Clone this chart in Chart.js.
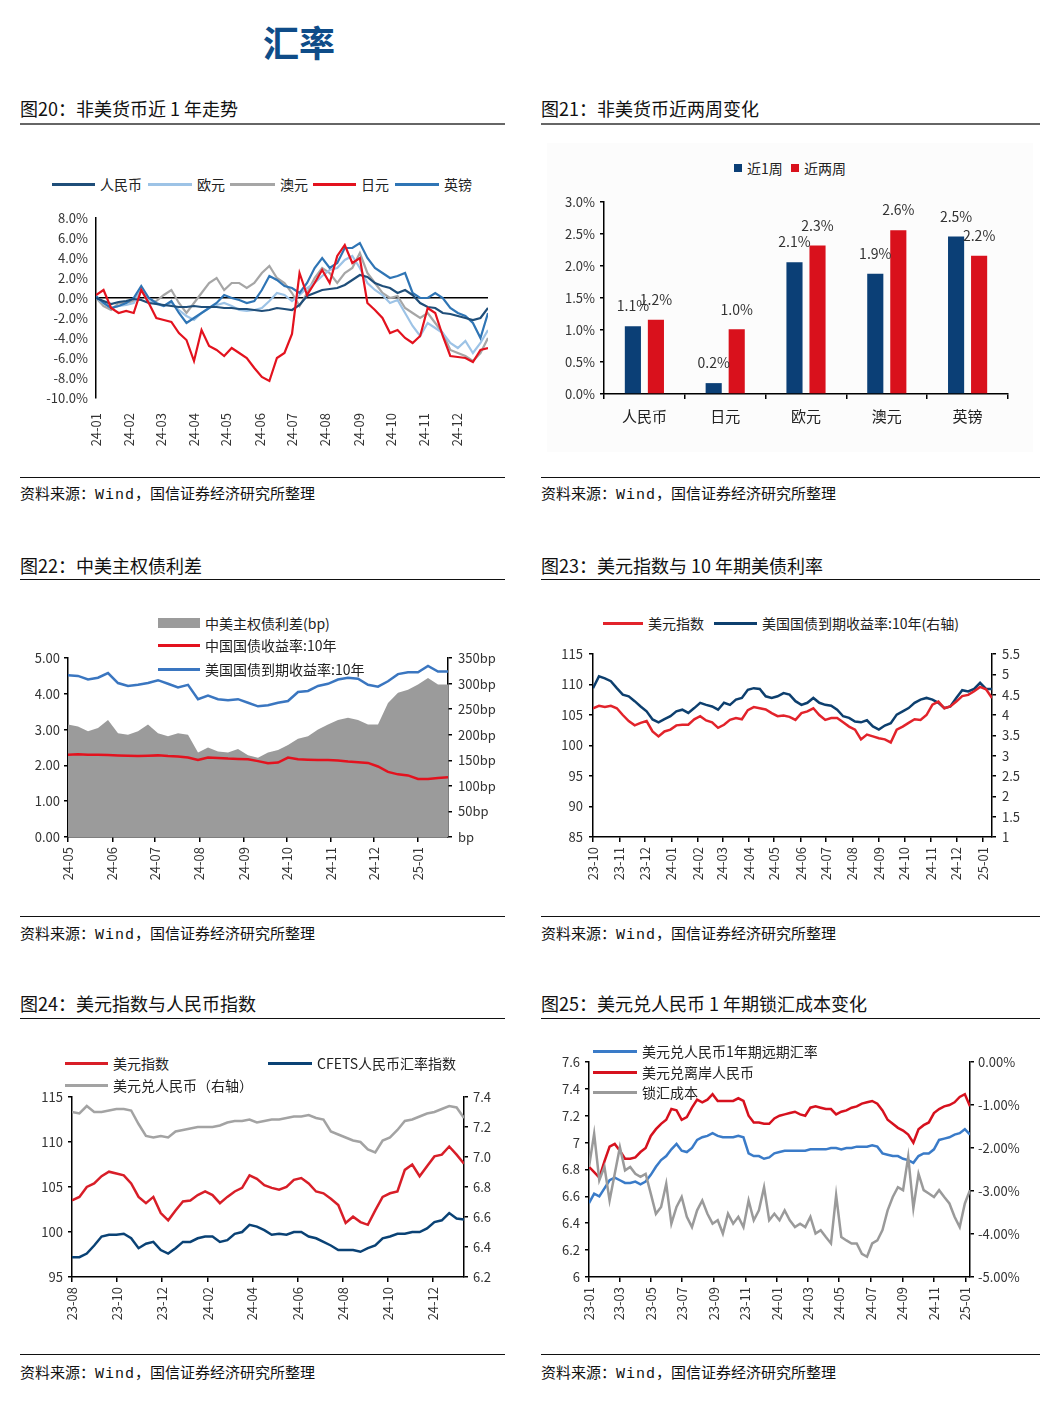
<!DOCTYPE html>
<html lang="zh-CN">
<head>
<meta charset="utf-8">
<title>汇率</title>
<script src="https://cdn.jsdelivr.net/npm/chart.js@4.4.1/dist/chart.umd.min.js"></script>
<style>
body{margin:0;background:#fff;font-family:'Noto Sans CJK SC',sans-serif;color:#222}
#page{position:relative;width:1055px;height:1417px;overflow:hidden;background:#fff}
.title{position:absolute;left:0;width:598px;top:16px;text-align:center;font-size:36px;line-height:50px;font-weight:bold;color:#0f4c88}
.cap{position:absolute;font-size:18px;line-height:22px;white-space:nowrap;color:#111}
.src{position:absolute;font-size:15px;line-height:20px;white-space:nowrap;color:#111}
.src b{font-weight:normal;font-family:'Liberation Mono',monospace;letter-spacing:1px}
.rule{position:absolute;height:0;border-top:2px solid #666}
.rule.dark{border-top:1.5px solid #111}
canvas{position:absolute}
.lg{position:absolute;display:flex;align-items:center;height:20px;font-size:14px;white-space:nowrap;color:#222}
.lg span{display:inline-block}
#bg2{position:absolute;left:547px;top:143px;width:486px;height:309px;background:#fcfcfc}
</style>
</head>
<body>
<div id="page">
  <div class="title">汇率</div>

  <div class="cap" style="left:20px;top:97px">图20：非美货币近 1 年走势</div>
  <div class="rule" style="left:20px;top:123px;width:485px"></div>
  <div class="cap" style="left:541px;top:97px">图21：非美货币近两周变化</div>
  <div class="rule" style="left:541px;top:123px;width:499px"></div>
  <div id="bg2"></div>
  <canvas id="c1" width="485" height="260" style="left:20px;top:200px"></canvas>
  <canvas id="c2" width="490" height="260" style="left:545px;top:185px"></canvas>
  <div class="rule dark" style="left:20px;top:477px;width:485px"></div>
  <div class="src" style="left:20px;top:483px">资料来源：<b>Wind</b>，国信证券经济研究所整理</div>
  <div class="rule dark" style="left:541px;top:477px;width:499px"></div>
  <div class="src" style="left:541px;top:483px">资料来源：<b>Wind</b>，国信证券经济研究所整理</div>

  <div class="cap" style="left:20px;top:554px">图22：中美主权债利差</div>
  <div class="rule dark" style="left:20px;top:579px;width:485px"></div>
  <div class="cap" style="left:541px;top:554px">图23：美元指数与 10 年期美债利率</div>
  <div class="rule dark" style="left:541px;top:579px;width:499px"></div>
  <canvas id="c3" width="485" height="270" style="left:20px;top:640px"></canvas>
  <canvas id="c4" width="490" height="275" style="left:545px;top:635px"></canvas>
  <div class="rule dark" style="left:20px;top:916px;width:485px"></div>
  <div class="src" style="left:20px;top:923px">资料来源：<b>Wind</b>，国信证券经济研究所整理</div>
  <div class="rule dark" style="left:541px;top:916px;width:499px"></div>
  <div class="src" style="left:541px;top:923px">资料来源：<b>Wind</b>，国信证券经济研究所整理</div>

  <div class="cap" style="left:20px;top:992px">图24：美元指数与人民币指数</div>
  <div class="rule dark" style="left:20px;top:1018px;width:485px"></div>
  <div class="cap" style="left:541px;top:992px">图25：美元兑人民币 1 年期锁汇成本变化</div>
  <div class="rule dark" style="left:541px;top:1018px;width:499px"></div>
  <canvas id="c5" width="485" height="275" style="left:20px;top:1075px"></canvas>
  <canvas id="c6" width="490" height="305" style="left:545px;top:1045px"></canvas>
  <div class="rule dark" style="left:20px;top:1354px;width:485px"></div>
  <div class="src" style="left:20px;top:1362px">资料来源：<b>Wind</b>，国信证券经济研究所整理</div>
  <div class="rule dark" style="left:541px;top:1354px;width:499px"></div>
  <div class="src" style="left:541px;top:1362px">资料来源：<b>Wind</b>，国信证券经济研究所整理</div>
</div>

<script>
// ---- 图20 非美货币近1年走势 (周度, %)
const c1Start = '2024-01-01'
const c1Ticks = ['24-01','24-02','24-03','24-04','24-05','24-06','24-07','24-08','24-09','24-10','24-11','24-12']
const c1Cny = [0,-0.3,-0.6,-0.4,-0.3,-0.1,-0.2,-0.5,-0.6,-0.7,
  -0.8,-0.9,-0.9,-0.8,-0.9,-0.9,-0.9,-1.0,-1.0,-1.1,
  -1.1,-1.2,-1.3,-1.2,-1.0,-1.1,-1.2,-0.7,0.2,0.5,
  0.8,0.9,1.0,1.3,1.8,2.3,2.1,1.5,1.2,1.0,
  0.5,0.8,0.3,-0.5,-0.9,-1.0,-1.5,-1.6,-1.8,-2.0,
  -2.2,-2.0,-1.0]
const c1Eur = [0,-0.5,-1.0,-0.8,-0.7,-0.5,0.8,-0.3,-0.6,-0.8,
  -0.5,-1.2,-1.8,-2.2,-1.5,-1.0,-0.7,-0.5,-0.8,-1.2,
  -1.3,-1.2,-1.0,-0.3,0.5,0.3,-0.3,0.3,1.0,1.5,
  2.2,2.8,3.0,3.8,4.2,3.0,1.5,0.8,0.3,-0.5,
  -0.2,-1.5,-2.8,-3.8,-2.5,-3.0,-3.5,-4.5,-5.0,-4.3,
  -5.5,-4.5,-3.2]
const c1Aud = [0,-0.8,-1.2,-0.5,-0.5,-0.3,0.8,-0.5,-0.3,0.3,
  0.8,-0.5,-1.5,-0.5,0.5,1.5,2.0,0.8,1.5,1.5,
  1.0,1.5,2.5,3.2,2.0,1.5,0.5,-0.8,0.5,2.0,
  3.0,2.5,1.5,2.5,3.0,4.5,2.5,1.5,0.5,0.0,
  0.2,-1.0,-1.5,-2.0,-1.5,-2.5,-3.5,-5.2,-5.5,-5.8,
  -6.3,-5.5,-4.0]
const c1Jpy = [0.3,0.8,-1.0,-1.5,-1.3,-1.5,0.8,-0.5,-2.0,-2.2,
  -2.4,-3.5,-4.2,-6.3,-3.2,-4.8,-5.2,-5.8,-5.0,-5.5,
  -6.0,-7.0,-7.9,-8.3,-6.0,-5.5,-3.6,2.5,0.3,1.5,
  2.8,1.5,4.2,5.3,3.5,4.0,-0.5,-1.2,-2.0,-3.5,
  -3.2,-4.0,-4.5,-3.8,-1.0,-1.5,-3.8,-5.8,-5.9,-6.0,
  -6.4,-5.2,-5.0]
const c1Gbp = [0.2,-0.5,-1.0,-0.8,-0.5,0.0,1.2,0.0,-0.5,-0.8,
  -0.3,-1.5,-2.5,-2.0,-1.5,-1.0,-0.5,0.3,0.0,-0.2,
  -0.5,-0.3,0.8,2.2,1.8,1.2,1.0,0.5,1.5,3.0,
  4.0,3.0,3.5,5.0,5.0,5.5,4.0,3.0,2.5,2.0,
  2.2,2.5,0.5,0.0,0.0,0.5,0.0,-1.0,-1.5,-1.8,
  -2.5,-4.0,-1.5]

// ---- 图21 非美货币近两周变化 (%)
const barCats = ['人民币','日元','欧元','澳元','英镑']
const barWeek1 = [1.06, 0.17, 2.06, 1.88, 2.46]
const barWeek2 = [1.16, 1.01, 2.32, 2.56, 2.16]

// ---- 图22 中美主权债利差 (周度)
const c3Start = '2024-05-01'
const c3Ticks = ['24-05','24-06','24-07','24-08','24-09','24-10','24-11','24-12','25-01']
const c3Cn = [2.30,2.31,2.30,2.30,2.29,2.28,2.27,2.26,2.27,2.28,
  2.26,2.25,2.22,2.15,2.22,2.21,2.19,2.18,2.17,2.12,
  2.06,2.08,2.22,2.17,2.16,2.15,2.15,2.14,2.11,2.09,
  2.07,1.97,1.82,1.75,1.72,1.62,1.62,1.65,1.67]
const c3Us = [4.52,4.50,4.40,4.45,4.58,4.30,4.22,4.25,4.30,4.38,
  4.28,4.18,4.25,3.85,3.95,3.85,3.82,3.85,3.75,3.65,
  3.68,3.75,3.80,4.05,4.08,4.22,4.28,4.40,4.45,4.42,
  4.25,4.20,4.35,4.55,4.60,4.60,4.78,4.62,4.62]
const c3Spread = [220,216,207,213,229,203,200,207,220,203,
  197,203,200,165,175,167,165,172,160,155,
  165,170,180,192,197,210,220,229,233,229,
  220,220,262,282,288,298,311,298,298]

// ---- 图23 美元指数与10年期美债利率 (周度)
const c4Start = '2023-10-01'
const c4Ticks = ['23-10','23-11','23-12','24-01','24-02','24-03','24-04','24-05','24-06','24-07','24-08','24-09','24-10','24-11','24-12','25-01']
const c4Dxy = [106.1,106.5,106.3,106.5,106.1,105.0,104.0,103.3,103.7,104.0,
  102.3,101.5,102.3,102.6,103.3,103.4,103.4,104.3,104.8,104.1,
  103.8,102.9,103.4,104.2,104.5,104.3,105.8,106.3,106.1,105.9,
  105.3,104.8,104.9,104.7,104.2,105.3,105.6,106.1,105.0,104.2,
  104.5,104.5,103.8,103.1,102.6,101.0,101.8,101.5,101.2,101.0,
  100.5,102.6,103.1,103.7,104.3,104.2,105.0,106.7,107.2,106.1,
  106.4,107.2,108.1,108.3,108.9,109.6,109.2,107.8]
const c4Us10y = [4.66,4.95,4.90,4.83,4.66,4.50,4.46,4.34,4.21,4.09,
  3.89,3.82,3.90,3.97,4.09,4.13,4.05,4.17,4.30,4.25,
  4.21,4.13,4.30,4.25,4.38,4.42,4.62,4.66,4.64,4.46,
  4.42,4.46,4.54,4.50,4.34,4.25,4.30,4.42,4.30,4.25,
  4.23,4.13,3.97,3.93,3.84,3.82,3.87,3.72,3.64,3.74,
  3.80,4.01,4.09,4.17,4.30,4.38,4.42,4.38,4.30,4.17,
  4.21,4.42,4.61,4.58,4.64,4.79,4.64,4.64]

// ---- 图24 美元指数与人民币指数 (10日)
const c5Start = '2023-08-01'
const c5Ticks = ['23-08','23-10','23-12','24-02','24-04','24-06','24-08','24-10','24-12']
const c5Dxy = [103.5,103.9,105.0,105.4,106.2,106.7,106.5,106.3,105.4,103.9,
  103.2,103.9,102.1,101.3,102.4,103.4,103.5,104.1,104.5,104.1,
  103.2,103.9,104.5,104.9,106.3,105.9,105.2,104.9,104.7,105.0,
  105.8,106.0,105.4,104.5,104.3,103.7,103.0,101.0,101.7,101.1,
  100.8,102.4,103.9,104.3,104.5,106.9,107.5,106.2,107.3,108.4,
  108.6,109.5,108.6,107.6]
const c5Cfets = [97.2,97.2,97.6,98.5,99.5,99.7,99.7,99.8,99.3,98.2,
  98.7,98.9,98.0,97.6,98.2,98.9,98.9,99.3,99.5,99.5,
  98.9,99.1,99.8,100.0,100.8,100.6,100.2,99.7,99.8,99.7,
  100.0,100.0,99.5,99.3,98.9,98.5,98.0,98.0,98.0,97.8,
  98.2,98.5,99.3,99.5,99.8,99.8,100.0,100.0,100.4,101.1,
  101.3,102.1,101.5,101.4]
const c5Usdcny = [7.30,7.29,7.34,7.30,7.30,7.31,7.32,7.32,7.31,7.22,
  7.14,7.13,7.14,7.13,7.17,7.18,7.19,7.20,7.20,7.20,
  7.21,7.23,7.24,7.24,7.25,7.23,7.24,7.25,7.25,7.26,
  7.27,7.27,7.28,7.26,7.25,7.17,7.15,7.13,7.11,7.10,
  7.05,7.03,7.11,7.13,7.18,7.24,7.25,7.27,7.29,7.30,
  7.32,7.34,7.33,7.26]

// ---- 图25 美元兑人民币1年期锁汇成本 (10日)
const c6Start = '2023-01-01'
const c6Ticks = ['23-01','23-03','23-05','23-07','23-09','23-11','24-01','24-03','24-05','24-07','24-09','24-11','25-01']
const c6Fwd = [6.55,6.62,6.60,6.66,6.72,6.74,6.72,6.70,6.70,6.71,
  6.69,6.71,6.76,6.82,6.87,6.90,6.95,6.99,6.94,6.93,
  6.96,7.02,7.04,7.05,7.07,7.05,7.04,7.04,7.04,7.05,
  7.04,6.92,6.90,6.90,6.88,6.89,6.92,6.93,6.94,6.94,
  6.94,6.94,6.94,6.95,6.95,6.95,6.95,6.96,6.96,6.95,
  6.96,6.96,6.97,6.97,6.97,6.98,6.97,6.92,6.91,6.90,
  6.90,6.88,6.87,6.85,6.90,6.92,6.92,6.95,7.02,7.03,
  7.04,7.06,7.07,7.10,7.06]
const c6Cnh = [6.82,6.78,6.74,6.86,6.97,6.99,6.94,6.88,6.88,6.89,
  6.93,6.96,7.05,7.10,7.14,7.17,7.25,7.24,7.17,7.19,
  7.26,7.32,7.30,7.32,7.36,7.31,7.31,7.31,7.31,7.33,
  7.31,7.20,7.15,7.15,7.14,7.14,7.18,7.20,7.21,7.22,
  7.23,7.21,7.20,7.26,7.27,7.26,7.25,7.25,7.21,7.23,
  7.24,7.26,7.27,7.29,7.30,7.31,7.29,7.24,7.17,7.14,
  7.11,7.09,7.06,7.00,7.10,7.13,7.15,7.22,7.25,7.27,
  7.28,7.30,7.34,7.36,7.27]
const c6Cost = [-2.44,-1.67,-2.75,-2.44,-3.22,-2.60,-1.98,-2.52,-2.44,-2.60,
  -2.67,-2.60,-3.06,-3.53,-3.37,-2.83,-3.76,-3.37,-3.14,-3.60,
  -3.84,-3.45,-3.22,-3.53,-3.76,-3.68,-3.99,-3.53,-3.76,-3.60,
  -3.84,-3.22,-3.68,-3.45,-2.91,-3.68,-3.53,-3.68,-3.45,-3.68,
  -3.84,-3.76,-3.84,-3.60,-3.99,-3.91,-4.07,-4.22,-3.10,-4.07,
  -4.15,-4.22,-4.22,-4.46,-4.53,-4.22,-4.15,-3.91,-3.45,-3.14,
  -2.91,-2.98,-2.20,-3.40,-2.60,-2.98,-3.06,-3.14,-2.98,-3.14,
  -3.29,-3.60,-3.84,-3.29,-2.98]

// colours
const NAVY = '#1f4e79', LIGHTBLUE = '#9dc3e6', GREY = '#a6a6a6', RED = '#e3121e', BLUE = '#2f75b5'
const BAR_NAVY = '#0b3f76', BAR_RED = '#d9111c'
const FONT = "'Noto Sans CJK SC', sans-serif"
const tickFont = { family: FONT, size: 13 }
const TICK = '#333'

// helpers
const DAY = 864e5
const toDay = s => Date.UTC(+s.slice(0, 4), +s.slice(5, 7) - 1, +s.slice(8, 10)) / DAY
const monthDay = lab => Date.UTC(2000 + +lab.slice(0, 2), +lab.slice(3, 5) - 1, 1) / DAY
const dates = (start, step, n) => Array.from({ length: n }, (_, i) => toDay(start) + i * step)
const pts = (xs, ys) => ys.map((v, i) => ({ x: xs[i], y: v }))

function line(label, xs, ys, color, width, axis) {
  return { label, data: pts(xs, ys), borderColor: color, backgroundColor: color, borderWidth: width,
    pointRadius: 0, tension: 0, fill: false, yAxisID: axis || 'y' }
}

function timeX(xs, labels, height, marks) {
  const tv = labels.map(monthDay)
  return {
    type: 'linear', min: xs[0], max: xs[xs.length - 1],
    afterBuildTicks: s => { s.ticks = tv.map(v => ({ value: v })) },
    afterFit: s => { s.height = height },
    ticks: { autoSkip: false, minRotation: 90, maxRotation: 90, font: tickFont, color: TICK,
      padding: marks ? 5 : 10, callback: (v, i) => labels[i] },
    grid: { display: marks, drawOnChartArea: false, drawTicks: true, tickLength: 5, color: '#000', lineWidth: 1.5 },
    border: { display: marks, color: '#000', width: 1.5 }
  }
}

function yAxis(pos, min, max, step, width, fmt, pad) {
  return {
    position: pos, min, max,
    afterFit: s => { s.width = width },
    ticks: { stepSize: step, font: tickFont, color: TICK, padding: pad, callback: fmt },
    grid: { drawOnChartArea: false, drawTicks: true, tickLength: 4, color: '#000', lineWidth: 1.5 },
    border: { display: true, color: '#000', width: 1.5 }
  }
}

const base = (pad) => ({
  responsive: false, animation: false, layout: { padding: pad },
  plugins: { legend: { display: false }, tooltip: { enabled: false } }
})

function legend(items) {
  const page = document.getElementById('page')
  items.forEach(it => {
    const d = document.createElement('div')
    d.className = 'lg'
    d.style.left = it.x + 'px'
    d.style.top = (it.y - 10) + 'px'
    const s = document.createElement('span')
    s.style.width = it.w + 'px'
    s.style.height = (it.h || 3) + 'px'
    s.style.background = it.color
    s.style.marginRight = (it.gap || 5) + 'px'
    d.appendChild(s)
    d.appendChild(document.createTextNode(it.text))
    page.appendChild(d)
  })
}

// ---------- 图20
const x1 = dates(c1Start, 7, c1Cny.length)
const o1 = base({ top: 18, right: 17 })
o1.scales = {
  x: timeX(x1, c1Ticks, 62, false),
  y: {
    min: -10, max: 8,
    afterFit: s => { s.width = 76 },
    ticks: { stepSize: 2, font: tickFont, color: TICK, padding: 8, callback: v => v.toFixed(1) + '%' },
    grid: { drawTicks: false, lineWidth: 1.5, color: c => c.tick && c.tick.value === 0 ? '#000' : 'rgba(0,0,0,0)' },
    border: { display: true, color: '#000', width: 1.5 }
  }
}
new Chart(document.getElementById('c1'), {
  type: 'line',
  data: { datasets: [
    line('日元', x1, c1Jpy, RED, 2.2),
    line('人民币', x1, c1Cny, NAVY, 2.2),
    line('英镑', x1, c1Gbp, BLUE, 2.2),
    line('欧元', x1, c1Eur, LIGHTBLUE, 2.2),
    line('澳元', x1, c1Aud, GREY, 2.2)
  ] },
  options: o1
})
legend([
  { x: 52, y: 184, w: 43, color: NAVY, text: '人民币' },
  { x: 148, y: 184, w: 44, color: LIGHTBLUE, text: '欧元' },
  { x: 230, y: 184, w: 45, color: GREY, text: '澳元' },
  { x: 313, y: 184, w: 43, color: RED, text: '日元' },
  { x: 395, y: 184, w: 44, color: BLUE, text: '英镑' }
])

// ---------- 图21
const barLabels = {
  id: 'barLabels',
  afterDatasetsDraw(chart) {
    const ctx = chart.ctx
    ctx.save()
    ctx.font = '14px ' + FONT
    ctx.fillStyle = '#333'
    ctx.textAlign = 'center'
    ctx.textBaseline = 'middle'
    chart.data.datasets.forEach((ds, di) => {
      chart.getDatasetMeta(di).data.forEach((bar, i) => {
        ctx.fillText(ds.data[i].toFixed(1) + '%', bar.x, bar.y - 20)
      })
    })
    ctx.restore()
  }
}
const o2 = base({ top: 17, right: 27 })
o2.scales = {
  x: {
    afterFit: s => { s.height = 51 },
    ticks: { font: { family: FONT, size: 15 }, color: '#222', padding: 8 },
    grid: { offset: true, drawOnChartArea: false, drawTicks: true, tickLength: 5, color: '#000', lineWidth: 1.5 },
    border: { display: true, color: '#000', width: 1.5 }
  },
  y: yAxis('left', 0, 3, 0.5, 59, v => v.toFixed(1) + '%', 5)
}
new Chart(document.getElementById('c2'), {
  type: 'bar',
  data: { labels: barCats, datasets: [
    { label: '近1周', data: barWeek1, backgroundColor: BAR_NAVY, categoryPercentage: 0.57, barPercentage: 0.7 },
    { label: '近两周', data: barWeek2, backgroundColor: BAR_RED, categoryPercentage: 0.57, barPercentage: 0.7 }
  ] },
  options: o2,
  plugins: [barLabels]
})
legend([
  { x: 734, y: 168, w: 8, h: 8, color: BAR_NAVY, text: '近1周' },
  { x: 791, y: 168, w: 8, h: 8, color: BAR_RED, text: '近两周' }
])

// ---------- 图22
const x3 = dates(c3Start, 7, c3Cn.length)
const o3 = base({ top: 18 })
o3.scales = {
  x: timeX(x3, c3Ticks, 73, true),
  y: yAxis('left', 0, 5, 1, 48, v => v.toFixed(2), 4),
  y1: yAxis('right', 0, 350, 50, 57, v => v === 0 ? 'bp' : v + 'bp', 6)
}
new Chart(document.getElementById('c3'), {
  type: 'line',
  data: { datasets: [
    line('美国国债到期收益率:10年', x3, c3Us, '#3a76c0', 2.5),
    line('中国国债收益率:10年', x3, c3Cn, RED, 2.5),
    Object.assign(line('中美主权债利差(bp)', x3, c3Spread, '#9b9b9b', 0, 'y1'),
      { fill: 'origin', backgroundColor: '#9b9b9b', order: 5 })
  ] },
  options: o3
})
legend([
  { x: 158, y: 623, w: 42, h: 10, color: '#9b9b9b', text: '中美主权债利差(bp)' },
  { x: 158, y: 645, w: 42, color: RED, text: '中国国债收益率:10年' },
  { x: 158, y: 669, w: 42, color: '#3a76c0', text: '美国国债到期收益率:10年' }
])

// ---------- 图23
const x4 = dates(c4Start, 7, c4Dxy.length)
const o4 = base({ top: 19 })
o4.scales = {
  x: timeX(x4, c4Ticks, 73, true),
  y: yAxis('left', 85, 115, 5, 48, v => String(v), 6),
  y1: yAxis('right', 1, 5.5, 0.5, 43, v => String(+v.toFixed(1)), 6)
}
new Chart(document.getElementById('c4'), {
  type: 'line',
  data: { datasets: [
    line('美元指数', x4, c4Dxy, '#e2232b', 2.5),
    line('美国国债到期收益率:10年(右轴)', x4, c4Us10y, '#0d3f6e', 2.5, 'y1')
  ] },
  options: o4
})
legend([
  { x: 603, y: 623, w: 40, color: '#e2232b', text: '美元指数' },
  { x: 714, y: 623, w: 43, color: '#0d3f6e', text: '美国国债到期收益率:10年(右轴)' }
])

// ---------- 图24
const x5 = dates(c5Start, 10, c5Dxy.length)
const o5 = base({ top: 22 })
o5.scales = {
  x: timeX(x5, c5Ticks, 73, true),
  y: yAxis('left', 95, 115, 5, 52, v => String(v), 5),
  y1: yAxis('right', 6.2, 7.4, 0.2, 41, v => v.toFixed(1), 5)
}
new Chart(document.getElementById('c5'), {
  type: 'line',
  data: { datasets: [
    line('美元指数', x5, c5Dxy, '#d81e28', 2.5),
    line('CFETS人民币汇率指数', x5, c5Cfets, '#0a4275', 2.5),
    line('美元兑人民币（右轴）', x5, c5Usdcny, '#a3a3a3', 2.5, 'y1')
  ] },
  options: o5
})
legend([
  { x: 65, y: 1063, w: 43, color: '#d81e28', text: '美元指数' },
  { x: 268, y: 1063, w: 44, color: '#0a4275', text: 'CFETS人民币汇率指数' },
  { x: 65, y: 1085, w: 43, color: '#a3a3a3', text: '美元兑人民币（右轴）' }
])

// ---------- 图25
const x6 = dates(c6Start, 10, c6Fwd.length)
const o6 = base({ top: 17 })
o6.scales = {
  x: timeX(x6, c6Ticks, 73, true),
  y: yAxis('left', 6, 7.6, 0.2, 44, v => String(+v.toFixed(1)), 5),
  y1: yAxis('right', -5, 0, 1, 65, v => v.toFixed(2) + '%', 4)
}
new Chart(document.getElementById('c6'), {
  type: 'line',
  data: { datasets: [
    line('锁汇成本', x6, c6Cost, '#9a9a9a', 2.5, 'y1'),
    line('美元兑离岸人民币', x6, c6Cnh, '#d6111e', 2.5),
    line('美元兑人民币1年期远期汇率', x6, c6Fwd, '#3a7bc8', 2.5)
  ] },
  options: o6
})
legend([
  { x: 593, y: 1051, w: 44, color: '#3a7bc8', text: '美元兑人民币1年期远期汇率' },
  { x: 593, y: 1072, w: 44, color: '#d6111e', text: '美元兑离岸人民币' },
  { x: 593, y: 1092, w: 44, color: '#9a9a9a', text: '锁汇成本' }
])
</script>
</body>
</html>
